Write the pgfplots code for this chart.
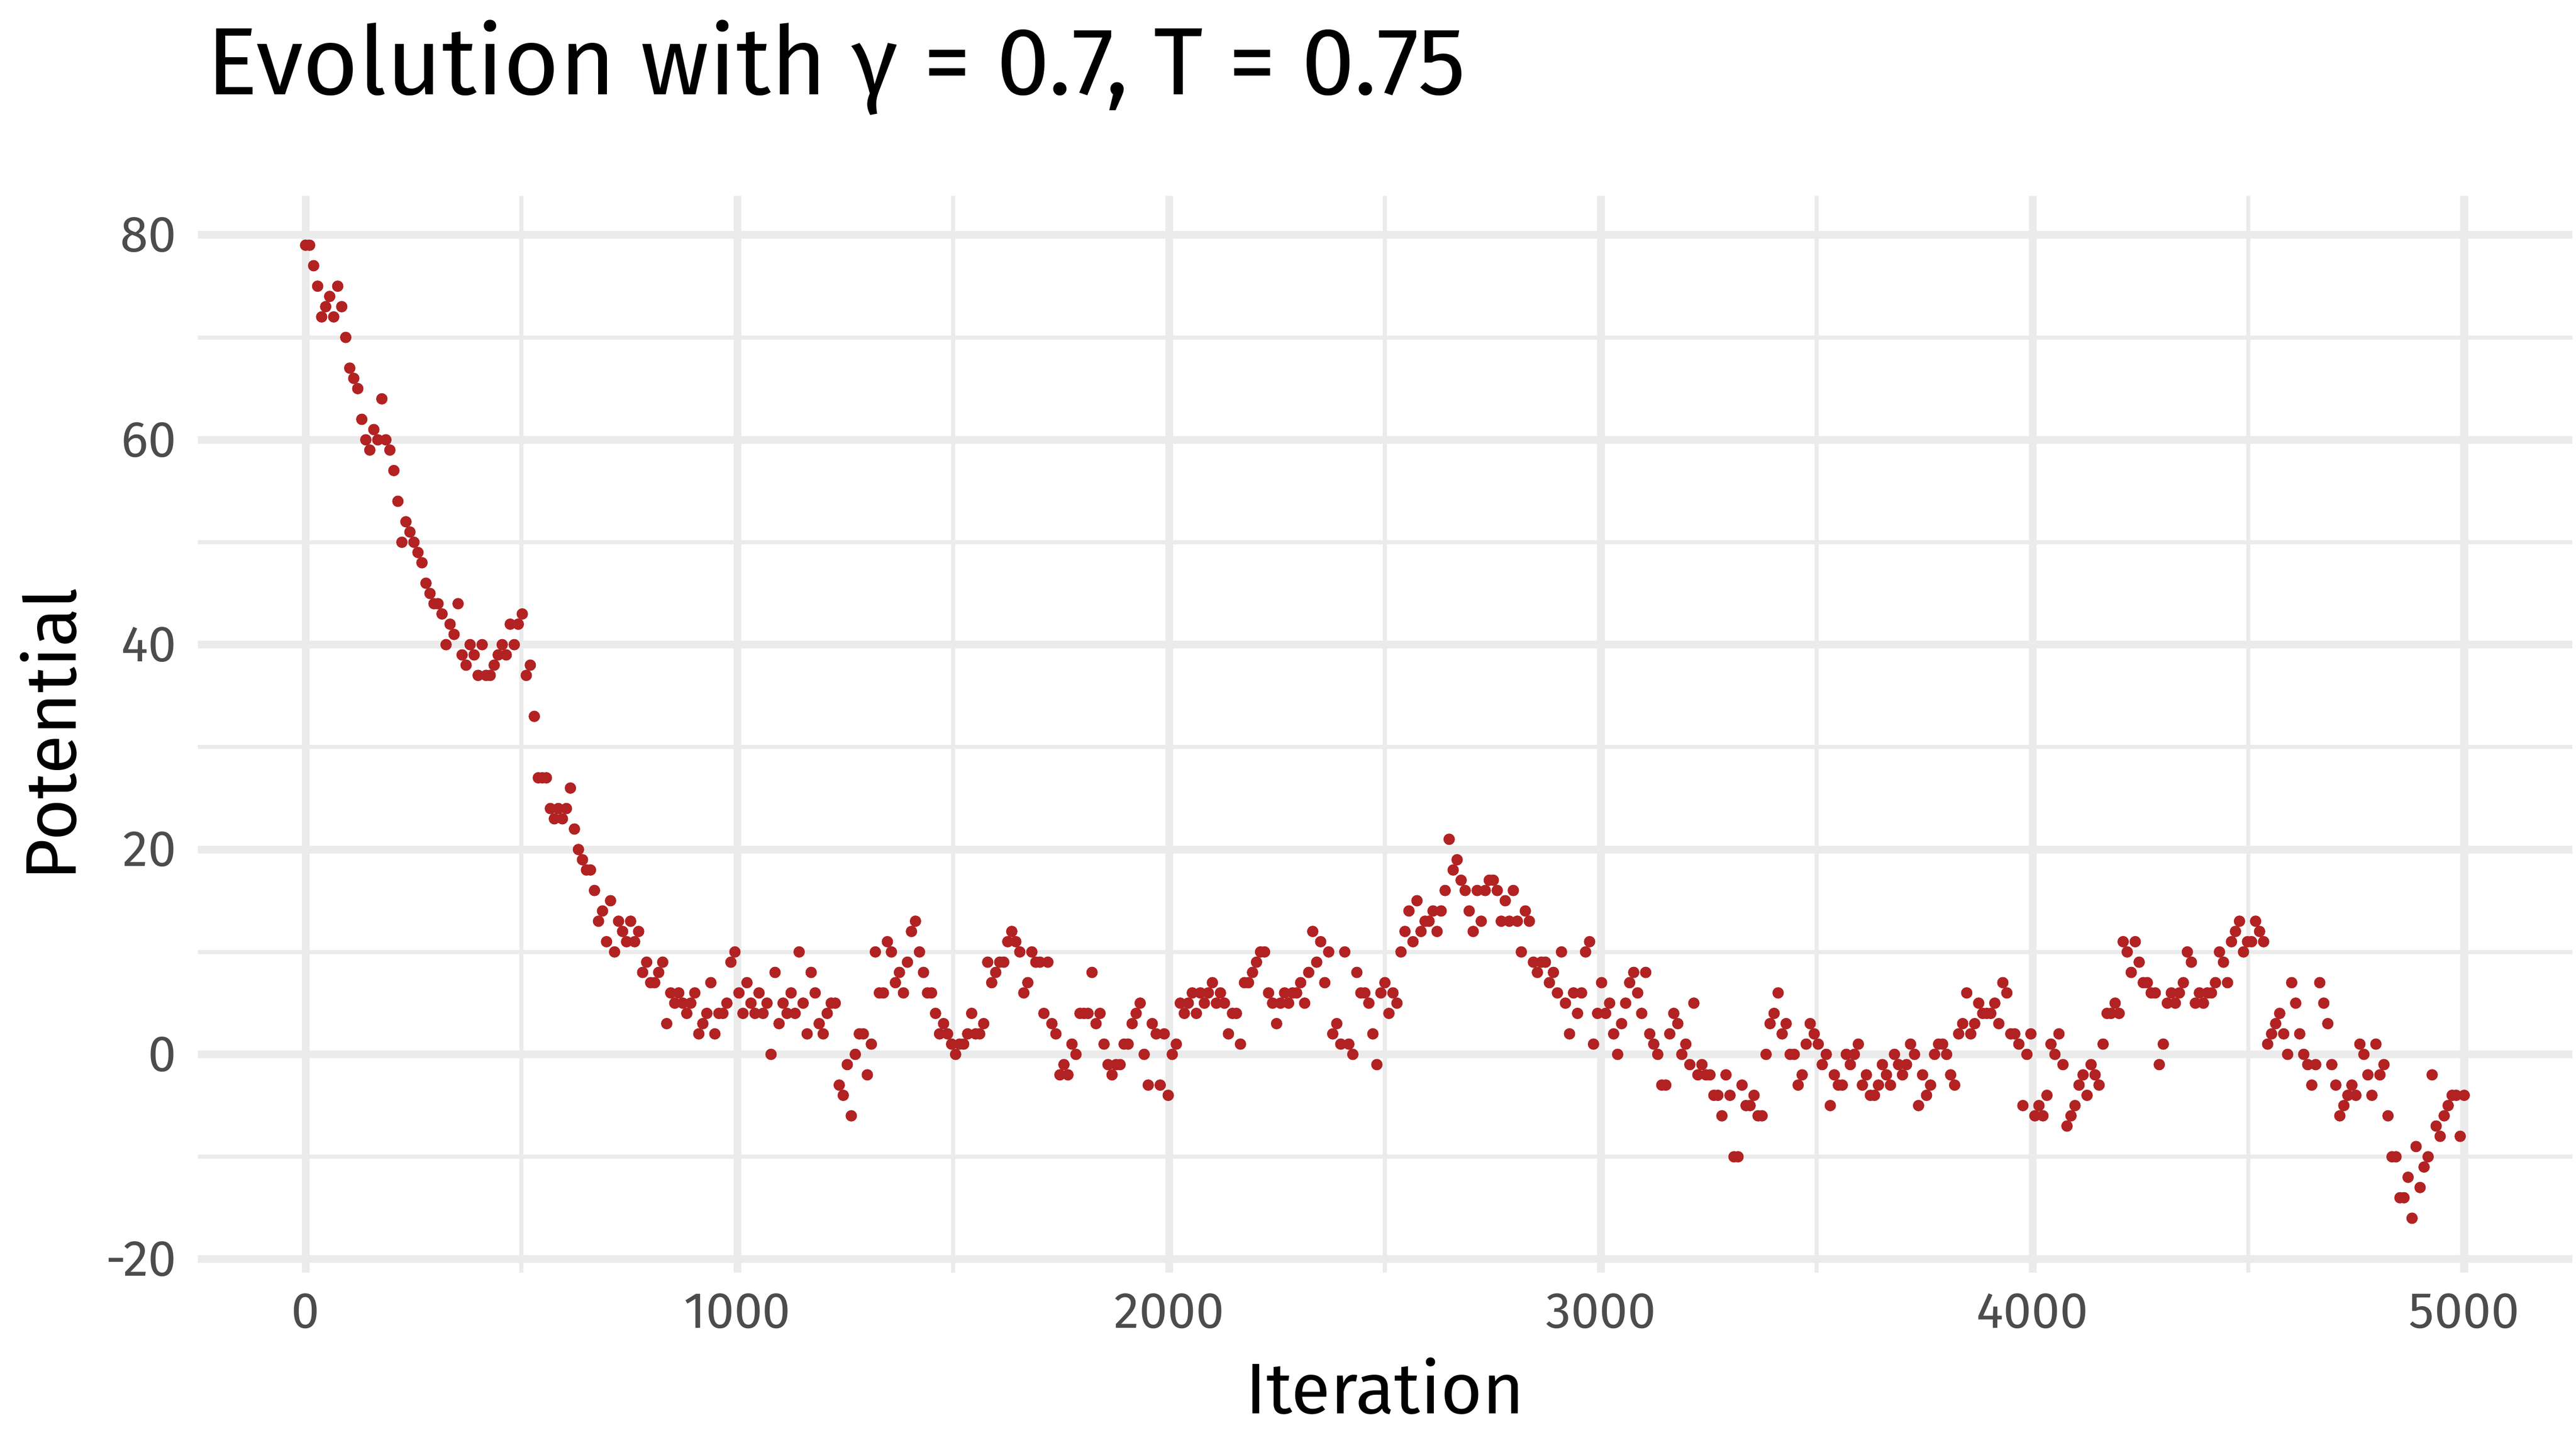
\documentclass[border=0pt]{standalone}
\usepackage{pgfplots}
\pgfplotsset{compat=1.18}
\usepackage{pgfplotstable}
\usepackage{fontspec}
\setmainfont{Fira Sans}
\setsansfont{Fira Sans}
\definecolor{pt}{HTML}{B22222}
\definecolor{grd}{HTML}{EBEBEB}
\pgfplotstableread[row sep=\\]{
y\\
79\\79\\77\\75\\72\\73\\74\\72\\75\\73\\70\\
67\\66\\65\\62\\60\\59\\61\\60\\64\\60\\59\\
57\\54\\50\\52\\51\\50\\49\\48\\46\\45\\44\\
44\\43\\40\\42\\41\\44\\39\\38\\40\\39\\37\\
40\\37\\37\\38\\39\\40\\39\\42\\40\\42\\43\\
37\\38\\33\\27\\27\\27\\24\\23\\24\\23\\24\\
26\\22\\20\\19\\18\\18\\16\\13\\14\\11\\15\\
10\\13\\12\\11\\13\\11\\12\\8\\9\\7\\7\\
8\\9\\3\\6\\5\\6\\5\\4\\5\\6\\2\\
3\\4\\7\\2\\4\\4\\5\\9\\10\\6\\4\\
7\\5\\4\\6\\4\\5\\0\\8\\3\\5\\4\\
6\\4\\10\\5\\2\\8\\6\\3\\2\\4\\5\\
5\\-3\\-4\\-1\\-6\\0\\2\\2\\-2\\1\\10\\
6\\6\\11\\10\\7\\8\\6\\9\\12\\13\\10\\
8\\6\\6\\4\\2\\3\\2\\1\\0\\1\\1\\
2\\4\\2\\2\\3\\9\\7\\8\\9\\9\\11\\
12\\11\\10\\6\\7\\10\\9\\9\\4\\9\\3\\
2\\-2\\-1\\-2\\1\\0\\4\\4\\4\\8\\3\\
4\\1\\-1\\-2\\-1\\-1\\1\\1\\3\\4\\5\\
0\\-3\\3\\2\\-3\\2\\-4\\0\\1\\5\\4\\
5\\6\\4\\6\\5\\6\\7\\5\\6\\5\\2\\
4\\4\\1\\7\\7\\8\\9\\10\\10\\6\\5\\
3\\5\\6\\5\\6\\6\\7\\5\\8\\12\\9\\
11\\7\\10\\2\\3\\1\\10\\1\\0\\8\\6\\
6\\5\\2\\-1\\6\\7\\4\\6\\5\\10\\12\\
14\\11\\15\\12\\13\\13\\14\\12\\14\\16\\21\\
18\\19\\17\\16\\14\\12\\16\\13\\16\\17\\17\\
16\\13\\15\\13\\16\\13\\10\\14\\13\\9\\8\\
9\\9\\7\\8\\6\\10\\5\\2\\6\\4\\6\\
10\\11\\1\\4\\7\\4\\5\\2\\0\\3\\5\\
7\\8\\6\\4\\8\\2\\1\\0\\-3\\-3\\2\\
4\\3\\0\\1\\-1\\5\\-2\\-1\\-2\\-2\\-4\\
-4\\-6\\-2\\-4\\-10\\-10\\-3\\-5\\-5\\-4\\-6\\
-6\\0\\3\\4\\6\\2\\3\\0\\0\\-3\\-2\\
1\\3\\2\\1\\-1\\0\\-5\\-2\\-3\\-3\\0\\
-1\\0\\1\\-3\\-2\\-4\\-4\\-3\\-1\\-2\\-3\\
0\\-1\\-2\\-1\\1\\0\\-5\\-2\\-4\\-3\\0\\
1\\1\\0\\-2\\-3\\2\\3\\6\\2\\3\\5\\
4\\4\\4\\5\\3\\7\\6\\2\\2\\1\\-5\\
0\\2\\-6\\-5\\-6\\-4\\1\\0\\2\\-1\\-7\\
-6\\-5\\-3\\-2\\-4\\-1\\-2\\-3\\1\\4\\4\\
5\\4\\11\\10\\8\\11\\9\\7\\7\\6\\6\\
-1\\1\\5\\6\\5\\6\\7\\10\\9\\5\\6\\
5\\6\\6\\7\\10\\9\\7\\11\\12\\13\\10\\
11\\11\\13\\12\\11\\1\\2\\3\\4\\2\\0\\
7\\5\\2\\0\\-1\\-3\\-1\\7\\5\\3\\-1\\
-3\\-6\\-5\\-4\\-3\\-4\\1\\0\\-2\\-4\\1\\
-2\\-1\\-6\\-10\\-10\\-14\\-14\\-12\\-16\\-9\\-13\\
-11\\-10\\-2\\-7\\-8\\-6\\-5\\-4\\-4\\-8\\-4\\
}\datatab
\begin{document}
\begin{tikzpicture}
\begin{axis}[
  scale only axis, width=13.97cm, height=6.33cm,
  xmin=-250, xmax=5250, ymin=-21.3, ymax=83.8,
  axis line style={draw=none}, tick style={draw=none},
  xtick={0,1000,2000,3000,4000,5000},
  minor xtick={500,1500,2500,3500,4500},
  ytick={-20,0,20,40,60,80},
  minor ytick={-10,10,30,50,70},
  grid=both,
  major grid style={grd, line width=1.3pt},
  minor grid style={grd, line width=0.7pt},
  scaled ticks=false,
  /pgf/number format/assume math mode=true,
  /pgf/number format/set thousands separator={},
  ticklabel style={font=\fontsize{8.5}{10}\selectfont, text=black!70},
  xlabel={Iteration}, ylabel={Potential},
  label style={font=\fontsize{12}{14}\selectfont},
  xlabel style={yshift=2pt},
  ylabel style={yshift=-2pt},
  title={Evolution with γ = 0.7, T = 0.75},
  title style={font=\fontsize{16}{19}\selectfont, at={(0,1)}, anchor=south west, xshift=-2pt, yshift=4pt},
]
\addplot[only marks, mark=*, mark size=0.75pt, color=pt]
  table[x expr=\coordindex*5000/538, y index=0] {\datatab};
\end{axis}
\end{tikzpicture}
\end{document}
